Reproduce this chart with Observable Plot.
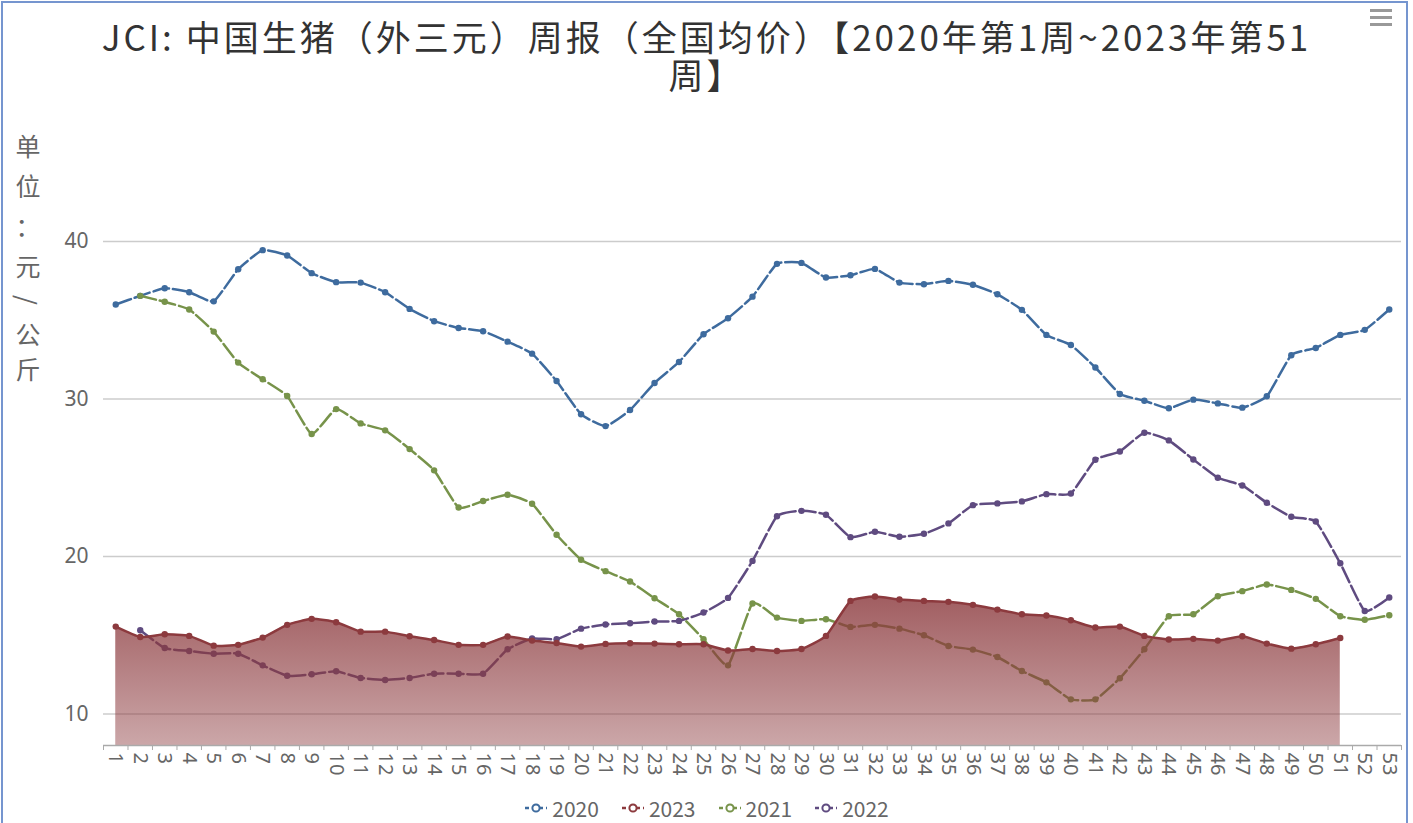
<!DOCTYPE html>
<html><head><meta charset="utf-8">
<script src="https://cdn.jsdelivr.net/npm/d3@7"></script>
<script src="https://cdn.jsdelivr.net/npm/@observablehq/plot@0.6"></script>
<style>
body{margin:0;background:#fff;font-family:"Noto Sans CJK SC","Noto Sans",sans-serif;}
#wrap{position:relative;width:1413px;height:823px;overflow:hidden;background:#fff;}
#frame{position:absolute;left:1px;top:1px;width:1407px;height:860px;border:2px solid #7595cf;box-sizing:border-box;pointer-events:none;}
#title{position:absolute;left:0;width:1413px;top:17px;text-align:center;font-size:35px;line-height:38px;letter-spacing:3px;color:#333;}
#yname{position:absolute;left:0;top:0;width:60px;height:400px;font-size:25px;color:#666;}
#yname span{position:absolute;left:0;width:56px;text-align:center;line-height:30px;}
#menu{position:absolute;left:1370px;top:9px;width:22px;}
#menu div{height:2.5px;background:#999;margin-bottom:4.5px;}
#chart{position:absolute;left:0;top:110px;}
#legend{position:absolute;left:0;width:1413px;top:794px;display:flex;justify-content:center;gap:22px;font-size:21px;color:#666;line-height:28px;}
#legend .item{display:flex;align-items:center;gap:4px;}
</style></head>
<body>
<div id="wrap">
  <div id="title">JCI: 中国生猪（外三元）周报（全国均价）【2020年第1周~2023年第51<br>周】</div>
  <div id="yname"></div>
  <div id="menu"><div></div><div></div><div></div></div>
  <div id="chart"></div>
  <div id="legend"></div>
  <div id="frame"></div>
</div>
<script>
const weeks = [1,2,3,4,5,6,7,8,9,10,11,12,13,14,15,16,17,18,19,20,21,22,23,24,25,26,27,28,29,30,31,32,33,34,35,36,37,38,39,40,41,42,43,44,45,46,47,48,49,50,51,52,53];
const yTicks = [10, 20, 30, 40];
const yName = ["单", "位", "：", "元", "/", "公", "斤"];
const seriesNames = ["2020", "2023", "2021", "2022"];
const seriesColors = ["#3e6b9e", "#8c3a3e", "#77934a", "#5f4b80"];

const v2020 = [36.0,36.55,37.03,36.78,36.2,38.24,39.45,39.11,37.99,37.42,37.39,36.78,35.72,34.94,34.51,34.30,33.64,32.88,31.14,29.03,28.28,29.30,31.02,32.35,34.11,35.13,36.50,38.58,38.64,37.71,37.86,38.26,37.39,37.29,37.50,37.25,36.65,35.66,34.07,33.43,32.0,30.32,29.89,29.41,29.96,29.72,29.45,30.17,32.78,33.24,34.07,34.39,35.68];
const v2021 = [null,36.55,36.17,35.68,34.28,32.31,31.25,30.19,27.78,29.36,28.45,28.01,26.82,25.47,23.11,23.52,23.92,23.35,21.38,19.79,19.07,18.41,17.35,16.33,14.75,13.09,17.02,16.12,15.91,16.02,15.53,15.66,15.42,15.0,14.32,14.09,13.62,12.73,12.01,10.93,10.93,12.27,14.11,16.21,16.33,17.48,17.80,18.22,17.88,17.31,16.21,15.98,16.27];
const v2022 = [null,15.32,14.19,14.0,13.83,13.83,13.09,12.43,12.52,12.71,12.29,12.16,12.29,12.56,12.56,12.56,14.11,14.79,14.75,15.42,15.68,15.76,15.87,15.91,16.44,17.37,19.72,22.56,22.90,22.65,21.23,21.57,21.25,21.44,22.10,23.26,23.37,23.50,23.96,24.0,26.14,26.67,27.86,27.37,26.16,25.0,24.51,23.41,22.52,22.22,19.57,16.54,17.40];
const v2023 = [15.55,14.89,15.06,14.96,14.34,14.39,14.85,15.66,16.04,15.83,15.23,15.23,14.94,14.70,14.39,14.39,14.92,14.66,14.51,14.28,14.45,14.49,14.47,14.43,14.43,14.03,14.13,14.0,14.13,14.96,17.18,17.46,17.27,17.18,17.12,16.93,16.63,16.33,16.25,15.95,15.49,15.55,14.96,14.73,14.77,14.66,14.94,14.47,14.15,14.43,14.83];

const valuesBy = {"2020": v2020, "2021": v2021, "2022": v2022, "2023": v2023};
const colorOf = Object.fromEntries(seriesNames.map((n, i) => [n, seriesColors[i]]));
const rowsOf = name => weeks.map((w, i) => ({week: w, value: valuesBy[name][i], series: name}))
  .filter(d => d.value != null && d.value !== undefined);

// vertical axis name
const yNameCenters = [145, 185, 225, 265, 300, 333, 368];
const yn = document.getElementById("yname");
yName.forEach((ch, i) => {
  const s = document.createElement("span");
  s.textContent = ch;
  s.style.top = (yNameCenters[i] - 15) + "px";
  if (ch === "/") s.style.transform = "rotate(90deg)";
  yn.appendChild(s);
});

const yMin = 8;
const gradient = () => {
  const defs = d3.create("svg:defs");
  const g = defs.append("linearGradient").attr("id", "g23").attr("x1", 0).attr("y1", 0).attr("x2", 0).attr("y2", 1);
  g.append("stop").attr("offset", "0%").attr("stop-color", "#8c3a3e").attr("stop-opacity", 0.82);
  g.append("stop").attr("offset", "100%").attr("stop-color", "#8c3a3e").attr("stop-opacity", 0.45);
  return defs.node();
};

// category boundaries for the tick marks (between weeks)
const boundaries = weeks.map(w => w - 0.5).concat([weeks[weeks.length - 1] + 0.5]);
const curveOpts = {curve: "cardinal", tension: 0.55};

const dashed = ["2020", "2021", "2022"];
const marks = [
  gradient,
  Plot.ruleY(yTicks, {stroke: "#cccccc", strokeWidth: 1.3}),
];
for (const name of dashed) {
  marks.push(Plot.line(rowsOf(name), {x: "week", y: "value", stroke: colorOf[name], strokeWidth: 2.5, strokeDasharray: "16,4", ...curveOpts}));
  marks.push(Plot.dot(rowsOf(name), {x: "week", y: "value", fill: colorOf[name], r: 3.2}));
}
marks.push(Plot.areaY(rowsOf("2023"), {x: "week", y1: yMin, y2: "value", fill: "url(#g23)", ...curveOpts}));
marks.push(Plot.line(rowsOf("2023"), {x: "week", y: "value", stroke: colorOf["2023"], strokeWidth: 2.5, ...curveOpts}));
marks.push(Plot.dot(rowsOf("2023"), {x: "week", y: "value", fill: colorOf["2023"], r: 3.2}));
marks.push(Plot.ruleY([yMin], {stroke: "#aaaaaa", strokeWidth: 1.3}));
marks.push(Plot.axisX(weeks, {tickRotate: 90, tickSize: 0, tickPadding: 7, fontSize: 20, fill: "#666", tickFormat: d => String(d), label: null}));
marks.push(Plot.axisX(boundaries, {text: null, tickSize: 5, stroke: "#aaa", label: null}));
marks.push(Plot.axisY(yTicks, {tickSize: 0, tickPadding: 15, fontSize: 21, fill: "#666", label: null}));

const chart = Plot.plot({
  width: 1413, height: 680,
  marginLeft: 103, marginRight: 12, marginTop: 0, marginBottom: 45,
  x: {type: "linear", domain: [0.5, 53.5], range: [103, 1401]},
  y: {domain: [yMin, 42], range: [635, 99.5]},
  style: {fontFamily: "'Noto Sans', 'Open Sans', sans-serif", color: "#666", background: "transparent", overflow: "visible"},
  marks
});
document.getElementById("chart").appendChild(chart);

const legend = document.getElementById("legend");
for (const name of seriesNames) {
  const c = colorOf[name];
  const item = document.createElement("div");
  item.className = "item";
  item.innerHTML = `<svg width="24" height="14"><line x1="1" y1="7" x2="23" y2="7" stroke="${c}" stroke-width="2.5" stroke-dasharray="4,3"/><circle cx="12" cy="7" r="3.6" fill="#fff" stroke="${c}" stroke-width="2"/></svg><span>${name}</span>`;
  legend.appendChild(item);
}
</script>
</body></html>
